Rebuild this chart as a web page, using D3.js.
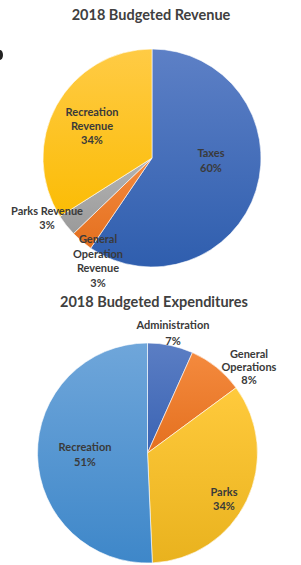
<!DOCTYPE html>
<html>
<head>
<meta charset="utf-8">
<script src="https://cdn.jsdelivr.net/npm/d3@7"></script>
<style>
  body { margin: 0; background: #fff; }
  svg { display: block; font-family: Lato, "Open Sans", sans-serif; }
  .title { font-size: 14.5px; font-weight: bold; fill: #404040; }
  .lbl { font-size: 11px; font-weight: bold; fill: #3a3a3a; }
</style>
</head>
<body>
<div class="chart"></div>
<script>
// revenue pie (labels as printed)
var revCats = ['Taxes', 'General Operation Revenue', 'Parks Revenue', 'Recreation Revenue'];
var revValues = [59.5, 3.3, 3.2, 34.0];
var revPct = ['60%', '3%', '3%', '34%'];

// expenditures pie
var expCats = ['Administration', 'General Operations', 'Parks', 'Recreation'];
var expValues = [6.7, 8.2, 34.4, 50.7];
var expPct = ['7%', '8%', '34%', '51%'];

var W = 301, H = 565;

var svg = d3.select('.chart')
  .append('svg')
  .attr('width', W)
  .attr('height', H);

var defs = svg.append('defs');

function grad(id, top, bottom) {
  var g = defs.append('linearGradient')
    .attr('id', id)
    .attr('x1', 0).attr('y1', 0)
    .attr('x2', 0).attr('y2', 1);
  g.append('stop').attr('offset', '0%').attr('stop-color', top);
  g.append('stop').attr('offset', '100%').attr('stop-color', bottom);
}

grad('gBlue', '#5d80c6', '#2f5eae');
grad('gOrange', '#f48a3e', '#e4701f');
grad('gGrey', '#b4b4b4', '#9a9a9a');
grad('gYellow', '#ffcb45', '#fbbc05');
grad('gBlue2', '#5b7ec4', '#3a63b3');
grad('gYellow2', '#ffca3c', '#e9b21e');
grad('gLight', '#6fa6da', '#3e87c9');

var pie = d3.pie().sort(null).value(function (d) { return d; });

function drawPie(cfg) {
  var g = svg.append('g')
    .attr('transform', 'translate(' + cfg.cx + ',' + cfg.cy + ')');

  var arc = d3.arc().innerRadius(0).outerRadius(cfg.r);

  g.selectAll('path')
    .data(pie(cfg.values))
    .enter()
    .append('path')
    .attr('d', arc)
    .attr('fill', function (d, i) { return 'url(#' + cfg.fills[i] + ')'; })
    .attr('stroke', '#fff')
    .attr('stroke-width', 0.6);

  // data labels, excel "best fit" spots
  cfg.cats.forEach(function (c, i) {
    var lines = cfg.lines[i].concat([cfg.pct[i]]);
    var p = cfg.spots[i];
    var t = g.append('text')
      .attr('class', 'lbl')
      .attr('text-anchor', 'middle');
    lines.forEach(function (ln, k) {
      t.append('tspan')
        .attr('x', p[0])
        .attr('y', p[1] + k * p[2] + 4)
        .text(ln);
    });
  });

  svg.append('text')
    .attr('class', 'title')
    .attr('x', cfg.tx)
    .attr('y', cfg.ty)
    .attr('text-anchor', 'middle')
    .text(cfg.title);
}

drawPie({
  title: '2018 Budgeted Revenue', tx: 151, ty: 20,
  cx: 152, cy: 158, r: 109,
  values: revValues, cats: revCats, pct: revPct,
  lines: [['Taxes'], ['General', 'Operation', 'Revenue'], ['Parks Revenue'], ['Recreation', 'Revenue']],
  fills: ['gBlue', 'gOrange', 'gGrey', 'gYellow'],
  spots: [[59, -5, 15], [-54, 81, 14.6], [-105, 53, 14], [-60, -46, 14.2]]
});

drawPie({
  title: '2018 Budgeted Expenditures', tx: 154, ty: 307,
  cx: 147.5, cy: 453, r: 110,
  values: expValues, cats: expCats, pct: expPct,
  lines: [['Administration'], ['General', 'Operations'], ['Parks'], ['Recreation']],
  fills: ['gBlue2', 'gOrange', 'gYellow2', 'gLight'],
  spots: [[25.5, -128, 16], [101.5, -99, 13], [76.5, 39, 14.3], [-62.5, -6, 15.4]]
});

// clipped blob from the neighbouring page content
svg.append('ellipse')
  .attr('cx', 0)
  .attr('cy', 55)
  .attr('rx', 3)
  .attr('ry', 5)
  .attr('fill', '#222');
</script>
</body>
</html>
